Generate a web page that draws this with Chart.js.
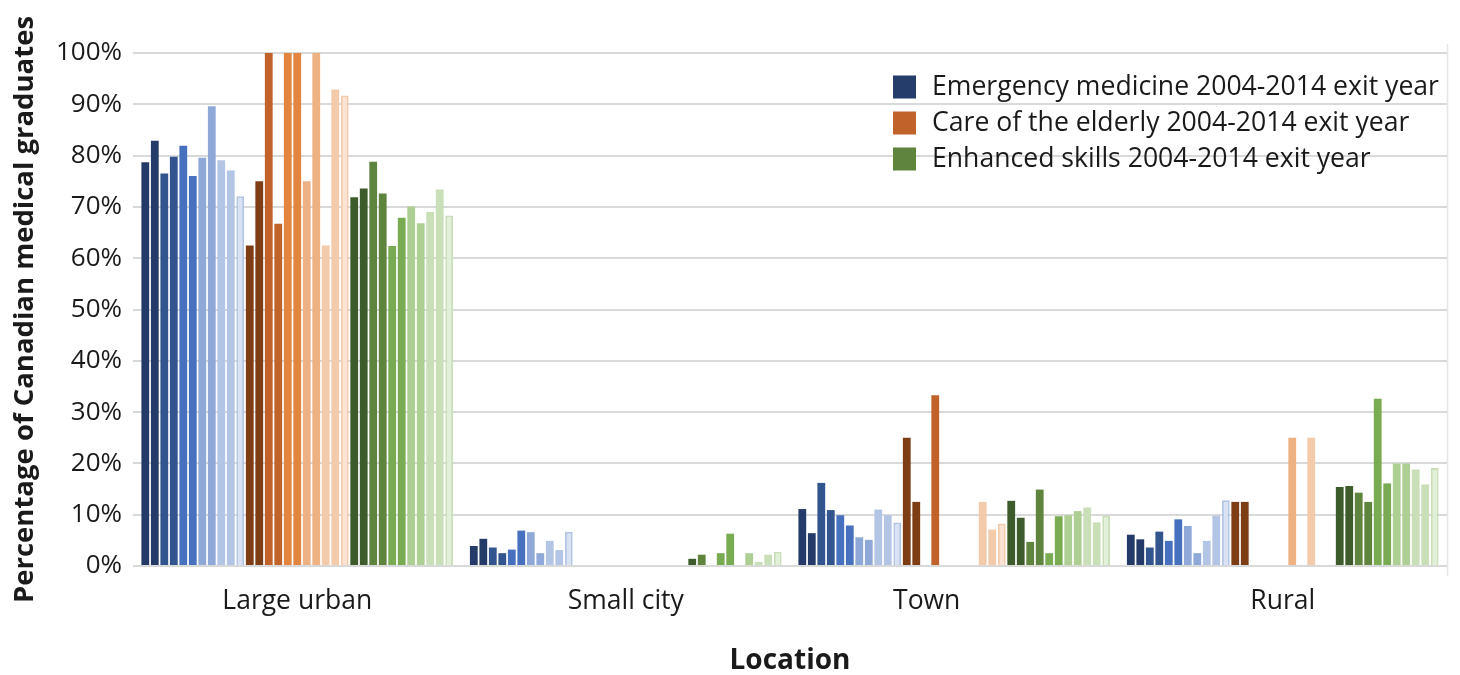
<!DOCTYPE html>
<html>
<head>
<meta charset="utf-8">
<title>Practice location of Canadian medical graduates</title>
<script src="https://cdn.jsdelivr.net/npm/chart.js@4.4.1/dist/chart.umd.min.js"></script>
<style>
  html, body { margin: 0; padding: 0; background: #ffffff; }
  #wrap { width: 1460px; height: 675px; position: relative; }
</style>
</head>
<body>
<div id="wrap"><canvas id="chart" width="1460" height="675"></canvas></div>
<script>
// Practice location categories (Town label carries trailing spaces as in the source sheet)
const locations = ['Large urban', 'Small city', 'Town        ', 'Rural'];
const exitYears = ['2004', '2005', '2006', '2007', '2008', '2009', '2010', '2011', '2012', '2013', '2014'];
const programs = ['Emergency medicine', 'Care of the elderly', 'Enhanced skills'];
const yTicks = [0, 10, 20, 30, 40, 50, 60, 70, 80, 90, 100];

// Share of graduates (%) by exit year 2004..2014, one array per location
const emergencyLargeUrban = [78.7, 82.9, 76.5, 79.8, 81.9, 76.0, 79.6, 89.6, 79.1, 77.1, 72.1];
const emergencySmallCity  = [3.9, 5.3, 3.6, 2.5, 3.2, 6.9, 6.6, 2.5, 4.9, 3.1, 6.7];
const emergencyTown       = [11.1, 6.4, 16.2, 10.9, 9.9, 7.9, 5.6, 5.1, 11.0, 9.9, 8.5];
const emergencyRural      = [6.1, 5.2, 3.6, 6.7, 4.9, 9.1, 7.8, 2.5, 4.9, 9.8, 12.8];

const elderlyLargeUrban = [62.5, 75.0, 100, 66.7, 100, 100, 75.0, 100, 62.5, 92.9, 91.7];
const elderlySmallCity  = [0, 0, 0, 0, 0, 0, 0, 0, 0, 0, 0];
const elderlyTown       = [25.0, 12.5, 0, 33.3, 0, 0, 0, 0, 12.5, 7.1, 8.3];
const elderlyRural      = [12.5, 12.5, 0, 0, 0, 0, 25.0, 0, 25.0, 0, 0];

const enhancedLargeUrban = [71.9, 73.6, 78.8, 72.6, 62.4, 67.9, 70.1, 66.8, 69.0, 73.4, 68.3];
const enhancedSmallCity  = [0, 1.4, 2.2, 0, 2.5, 6.3, 0, 2.5, 0.8, 2.2, 2.8];
const enhancedTown       = [12.7, 9.4, 4.7, 14.9, 2.5, 9.7, 9.9, 10.7, 11.4, 8.5, 9.8];
const enhancedRural      = [15.4, 15.6, 14.3, 12.5, 32.6, 16.1, 20.0, 20.0, 18.8, 15.9, 19.1];

// Colour ramps, dark (2004) to light (2014)
const blueShades   = ['#243A68', '#243A68', '#32558F', '#32558F', '#4771BE', '#4771BE', '#8EA8D8', '#8EA8D8', '#B3C5E5', '#B3C5E5', '#D9E2F2'];
const orangeShades = ['#7E3D14', '#7E3D14', '#C0622A', '#C0622A', '#E4853F', '#E4853F', '#EDB184', '#EDB184', '#F3CBAA', '#F3CBAA', '#FAE3D3'];
const greenShades  = ['#3E5B2B', '#3E5B2B', '#5E843D', '#5E843D', '#79AC52', '#79AC52', '#AECF93', '#AECF93', '#C9DFB7', '#C9DFB7', '#E2EFD9'];
const lightestEdges = ['#B3C5E5', '#F3CBAA', '#C9DFB7'];
const legendSwatches = ['#253D6B', '#C0622A', '#5E843D'];

const FONT = "'Open Sans', 'Noto Sans', sans-serif";
const TEXT = '#1a1a1a';

const datasets = [];
function addProgram(p, byLocation, shades) {
  exitYears.forEach((yr, i) => {
    const last = i === exitYears.length - 1;
    datasets.push({
      label: programs[p] + ' ' + yr,
      data: byLocation.map(arr => arr[i]),
      backgroundColor: shades[i],
      borderColor: last ? lightestEdges[p] : shades[i],
      borderWidth: last ? 2 : 0,
      borderSkipped: 'start',
      categoryPercentage: 0.954,
      barPercentage: 0.82
    });
  });
}
addProgram(0, [emergencyLargeUrban, emergencySmallCity, emergencyTown, emergencyRural], blueShades);
addProgram(1, [elderlyLargeUrban, elderlySmallCity, elderlyTown, elderlyRural], orangeShades);
addProgram(2, [enhancedLargeUrban, enhancedSmallCity, enhancedTown, enhancedRural], greenShades);

// Program legend drawn inside the plot area, top right
const programLegend = {
  id: 'programLegend',
  afterDatasetsDraw(chart) {
    const { ctx, chartArea } = chart;
    const x0 = chartArea.right - 554;
    const y0 = chartArea.top + 34;
    const step = 36;
    const box = 23;
    ctx.save();
    ctx.font = '26.6px ' + FONT;
    ctx.textBaseline = 'middle';
    ctx.textAlign = 'left';
    programs.forEach((name, i) => {
      const cy = y0 + i * step;
      ctx.fillStyle = legendSwatches[i];
      ctx.fillRect(x0, cy - box / 2, box, box);
      ctx.fillStyle = TEXT;
      ctx.fillText(name + ' 2004-2014 exit year', x0 + 39, cy);
    });
    ctx.restore();
  }
};

// Thin frame line along the right edge of the plot
const rightEdge = {
  id: 'rightEdge',
  beforeDatasetsDraw(chart) {
    const { ctx, chartArea } = chart;
    ctx.save();
    ctx.strokeStyle = '#e6e6e6';
    ctx.lineWidth = 1.5;
    ctx.beginPath();
    ctx.moveTo(chartArea.right + 0.5, chartArea.top - 9);
    ctx.lineTo(chartArea.right + 0.5, chartArea.bottom + 10);
    ctx.stroke();
    ctx.restore();
  }
};

new Chart(document.getElementById('chart'), {
  type: 'bar',
  data: { labels: locations, datasets },
  plugins: [rightEdge, programLegend],
  options: {
    responsive: false,
    animation: false,
    devicePixelRatio: 1,
    layout: { padding: { left: 0, right: 13, top: 53, bottom: 0 } },
    plugins: {
      legend: { display: false },
      tooltip: { enabled: false },
      title: { display: false }
    },
    scales: {
      x: {
        grid: { display: false, drawTicks: false },
        border: { display: false },
        ticks: { color: TEXT, font: { family: FONT, size: 26.5 }, padding: 20, maxRotation: 0, autoSkip: false },
        title: {
          display: true,
          text: 'Location',
          color: TEXT,
          font: { family: FONT, size: 28, weight: 'bold', lineHeight: 1 },
          padding: { top: 0, bottom: 0 }
        },
        afterFit(scale) { scale.height = 109; }
      },
      y: {
        min: 0,
        max: 100,
        afterBuildTicks(scale) { scale.ticks = yTicks.map(v => ({ value: v })); },
        grid: { color: '#d9d9d9', lineWidth: 2, drawTicks: false },
        border: { display: false },
        ticks: {
          color: TEXT,
          font: { family: FONT, size: 26 },
          padding: 11,
          callback: v => v + '%'
        },
        title: {
          display: true,
          text: 'Percentage of Canadian medical graduates',
          color: TEXT,
          font: { family: FONT, size: 27.5, weight: 'bold', lineHeight: 1 },
          padding: { top: 11, bottom: 0 }
        },
        afterFit(scale) { scale.width = 133; }
      }
    }
  }
});
</script>
</body>
</html>
